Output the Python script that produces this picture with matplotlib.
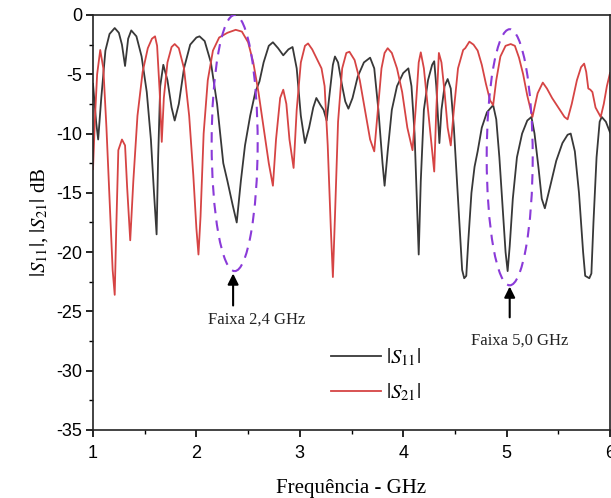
import matplotlib
matplotlib.use("Agg")
import matplotlib.pyplot as plt
from matplotlib.patches import Ellipse
from matplotlib.ticker import MultipleLocator

# ---------------- data ----------------
f_s11 = [1.00, 1.03, 1.05, 1.08, 1.12, 1.16, 1.21, 1.25, 1.28, 1.31, 1.34, 1.37, 1.42, 1.47,
         1.52, 1.56, 1.59, 1.615, 1.63, 1.65, 1.68, 1.72, 1.76, 1.79, 1.83, 1.88, 1.94, 2.00,
         2.03, 2.08, 2.14, 2.20, 2.26, 2.30, 2.35, 2.39, 2.43, 2.47, 2.52, 2.57, 2.61, 2.65,
         2.70, 2.74, 2.79, 2.84, 2.89, 2.93, 2.97, 3.01, 3.05, 3.09, 3.13, 3.16, 3.20, 3.23,
         3.26, 3.29, 3.32, 3.34, 3.37, 3.41, 3.44, 3.47, 3.51, 3.56, 3.62, 3.68, 3.72, 3.76,
         3.80, 3.82, 3.85, 3.89, 3.94, 4.00, 4.05, 4.08, 4.11, 4.13, 4.15, 4.17, 4.20, 4.24,
         4.28, 4.30, 4.32, 4.35, 4.37, 4.40, 4.43, 4.46, 4.49, 4.52, 4.55, 4.57, 4.59, 4.61,
         4.63, 4.66, 4.69, 4.72, 4.76, 4.81, 4.87, 4.90, 4.93, 4.96, 4.99, 5.01, 5.03, 5.06,
         5.10, 5.15, 5.20, 5.24, 5.27, 5.31, 5.34, 5.37, 5.42, 5.48, 5.54, 5.59, 5.62, 5.66,
         5.70, 5.74, 5.76, 5.80, 5.82, 5.84, 5.87, 5.90, 5.92, 5.96, 6.00]
s11_db = [-5.8, -9.0, -10.5, -7.0, -3.0, -1.6, -1.1, -1.5, -2.5, -4.3, -2.0, -1.3, -1.8, -3.5,
          -6.5, -10.5, -15.0, -18.5, -12.0, -6.0, -4.2, -5.5, -7.8, -8.9, -7.5, -4.5, -2.5, -1.9,
          -1.8, -2.2, -4.0, -7.5, -12.5, -14.0, -16.0, -17.5, -14.0, -11.0, -8.5, -6.5, -5.6, -4.0,
          -2.6, -2.3, -2.8, -3.4, -2.9, -2.7, -4.5, -8.5, -10.8, -9.5, -7.8, -7.0, -7.6, -8.0,
          -8.9, -6.5, -4.2, -3.5, -4.0, -6.0, -7.3, -7.9, -7.0, -5.2, -4.0, -3.6, -4.5, -8.0,
          -12.5, -14.4, -11.5, -8.0, -6.0, -4.9, -4.5, -6.0, -10.0, -15.0, -20.2, -14.0, -8.0, -5.5,
          -4.2, -3.9, -6.0, -10.8, -8.0, -6.0, -5.4, -6.2, -9.5, -14.0, -18.5, -21.5, -22.2, -22.0,
          -19.0, -15.0, -12.8, -11.5, -9.5, -8.2, -7.6, -8.8, -12.0, -16.0, -20.0, -21.6, -19.5, -15.5,
          -12.0, -10.0, -8.9, -8.6, -10.0, -13.0, -15.5, -16.3, -14.5, -12.3, -10.8, -10.1, -10.0, -11.5,
          -15.0, -20.0, -22.0, -22.2, -21.8, -17.5, -12.0, -9.0, -8.6, -9.0, -9.9]

f_s21 = [1.00, 1.02, 1.04, 1.07, 1.10, 1.13, 1.16, 1.19, 1.21, 1.225, 1.245, 1.28, 1.31, 1.33,
         1.36, 1.39, 1.43, 1.48, 1.53, 1.57, 1.60, 1.62, 1.645, 1.665, 1.685, 1.72, 1.76, 1.79,
         1.83, 1.88, 1.93, 1.97, 2.00, 2.02, 2.04, 2.07, 2.11, 2.16, 2.22, 2.30, 2.38, 2.44,
         2.50, 2.55, 2.60, 2.65, 2.70, 2.74, 2.77, 2.81, 2.84, 2.87, 2.90, 2.94, 2.97, 3.01,
         3.05, 3.08, 3.12, 3.17, 3.21, 3.24, 3.27, 3.30, 3.32, 3.34, 3.37, 3.41, 3.45, 3.48,
         3.53, 3.58, 3.63, 3.68, 3.72, 3.75, 3.79, 3.82, 3.85, 3.89, 3.94, 3.99, 4.04, 4.09,
         4.12, 4.15, 4.17, 4.20, 4.24, 4.28, 4.30, 4.32, 4.345, 4.37, 4.40, 4.43, 4.46, 4.49,
         4.53, 4.58, 4.60, 4.64, 4.68, 4.72, 4.76, 4.80, 4.84, 4.87, 4.90, 4.94, 4.99, 5.04,
         5.08, 5.12, 5.16, 5.20, 5.25, 5.30, 5.35, 5.39, 5.44, 5.50, 5.56, 5.59, 5.63, 5.68,
         5.72, 5.75, 5.77, 5.79, 5.81, 5.83, 5.86, 5.91, 5.94, 5.97, 6.00]
s21_db = [-13.0, -8.5, -5.0, -2.95, -4.5, -9.5, -15.5, -21.5, -23.6, -18.0, -11.4, -10.5, -11.0, -14.5,
          -19.0, -14.0, -8.5, -4.8, -2.8, -2.0, -1.8, -2.6, -6.5, -10.7, -7.0, -4.0, -2.7, -2.45,
          -2.8, -4.5, -8.5, -13.5, -18.0, -20.2, -17.0, -10.0, -5.5, -3.0, -1.9, -1.5, -1.25, -1.4,
          -2.3, -4.0, -6.5, -9.5, -12.5, -14.4, -10.5, -7.0, -6.3, -7.5, -10.5, -12.9, -8.0, -4.0,
          -2.6, -2.4, -2.9, -3.8, -4.5, -6.0, -11.0, -18.0, -22.1, -17.0, -9.0, -4.5, -3.2, -3.1,
          -3.8, -5.5, -8.0, -10.5, -11.5, -8.5, -4.5, -3.2, -2.8, -3.2, -4.5, -6.5, -9.5, -11.4,
          -8.0, -4.0, -3.15, -4.5, -8.0, -11.5, -13.2, -8.0, -3.2, -4.0, -6.5, -9.5, -11.0, -8.0,
          -4.5, -2.95, -2.8, -2.25, -2.5, -3.0, -4.2, -5.8, -7.2, -7.6, -5.5, -3.5, -2.6, -2.45,
          -2.6, -3.6, -5.0, -6.8, -8.6, -6.6, -5.7, -6.2, -7.0, -7.8, -8.6, -8.8, -7.5, -5.5,
          -4.4, -4.1, -4.8, -6.2, -6.3, -6.5, -7.8, -8.6, -7.5, -6.0, -4.9]

x_ticks = [1, 2, 3, 4, 5, 6]
y_ticks = [0, -5, -10, -15, -20, -25, -30, -35]
band_labels = ["Faixa 2,4 GHz", "Faixa 5,0 GHz"]
band_centers = [2.37, 5.03]     # GHz, centre of the dashed ellipses
band_centers_db = [-10.8, -12.0]

# ---------------- figure ----------------
plt.rcParams['mathtext.fontset'] = 'stix'
fig = plt.figure(figsize=(6.11, 4.98), dpi=100)
ax = fig.add_axes([93 / 611, 68 / 498, 517 / 611, 415 / 498])

ax.plot(f_s11, s11_db, color='#383838', lw=1.3, label=r'$|S_{11}|$')
ax.plot(f_s21, s21_db, color='#d64444', lw=1.3, label=r'$|S_{21}|$')

ax.set_xlim(1, 6)
ax.set_ylim(-35, 0)
ax.set_xticks(x_ticks)
ax.set_yticks(y_ticks)
ax.set_xticklabels([str(t) for t in x_ticks])
ax.set_yticklabels([str(t) for t in y_ticks])
ax.xaxis.set_minor_locator(MultipleLocator(0.5))
ax.yaxis.set_minor_locator(MultipleLocator(2.5))
ax.tick_params(which='major', direction='out', length=5, width=1.2,
               labelsize=13, pad=3)
ax.tick_params(axis='x', which='major', pad=6)
ax.tick_params(which='minor', direction='out', length=3, width=1.0)
for lab in ax.get_xticklabels() + ax.get_yticklabels():
    lab.set_family('Liberation Sans')
for sp in ax.spines.values():
    sp.set_linewidth(1.2)
    sp.set_color('#222222')

ax.set_xlabel('Frequência - GHz', family='Liberation Serif', fontsize=15, labelpad=12)
ax.set_ylabel(r'$|S_{11}|$, $|S_{21}|$ dB', family='Liberation Serif', fontsize=15, labelpad=4)

# dashed ellipses marking the bands
for cx, cy in zip(band_centers, band_centers_db):
    e = Ellipse((cx, cy), width=0.445, height=21.6, fill=False,
                edgecolor='#8a3ad8', lw=1.5, linestyle=(0, (5, 3.5)), zorder=5)
    ax.add_patch(e)

# arrows and labels
ax.annotate('', xy=(2.355, -21.8), xytext=(2.355, -24.5),
            arrowprops=dict(arrowstyle='-|>', color='black', lw=1.5,
                            mutation_scale=16, shrinkA=0, shrinkB=0))
ax.annotate('', xy=(5.03, -22.9), xytext=(5.03, -25.5),
            arrowprops=dict(arrowstyle='-|>', color='black', lw=1.5,
                            mutation_scale=16, shrinkA=0, shrinkB=0))
ax.text(2.585, -25.7, band_labels[0], family='Liberation Serif', fontsize=12,
        ha='center', va='center', color='#222222')
ax.text(5.125, -27.5, band_labels[1], family='Liberation Serif', fontsize=12,
        ha='center', va='center', color='#222222')

leg = ax.legend(loc='upper left', bbox_to_anchor=(0.425, 0.245), frameon=False,
                handlelength=2.4, handletextpad=0.2, labelspacing=0.6,
                prop={'family': 'Liberation Serif', 'size': 15})

fig.savefig('out.png', dpi=100)
